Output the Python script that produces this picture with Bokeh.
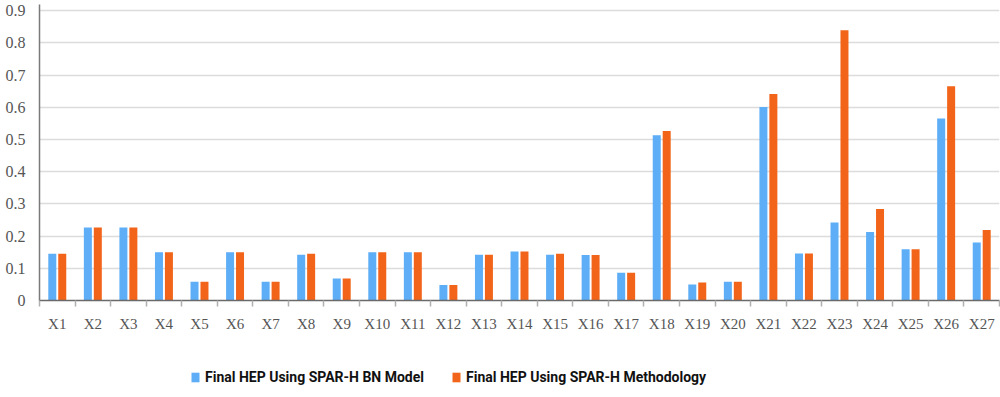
from bokeh.plotting import figure
from bokeh.layouts import column
from bokeh.models import (ColumnDataSource, FixedTicker, Legend, LegendItem, Range1d)
from bokeh.embed import file_html
from bokeh.resources import INLINE

categories = ["X1", "X2", "X3", "X4", "X5", "X6", "X7", "X8", "X9", "X10",
              "X11", "X12", "X13", "X14", "X15", "X16", "X17", "X18", "X19", "X20",
              "X21", "X22", "X23", "X24", "X25", "X26", "X27"]
bn_model = [0.145, 0.227, 0.227, 0.150, 0.058, 0.150, 0.058, 0.142, 0.068, 0.150,
            0.150, 0.048, 0.142, 0.152, 0.142, 0.141, 0.086, 0.513, 0.050, 0.058,
            0.601, 0.146, 0.242, 0.213, 0.159, 0.565, 0.180]
spar_h = [0.145, 0.227, 0.227, 0.150, 0.058, 0.150, 0.058, 0.145, 0.068, 0.150,
          0.150, 0.048, 0.142, 0.152, 0.145, 0.141, 0.086, 0.526, 0.056, 0.058,
          0.641, 0.146, 0.839, 0.284, 0.159, 0.665, 0.219]
y_ticks = [0, 0.1, 0.2, 0.3, 0.4, 0.5, 0.6, 0.7, 0.8, 0.9]
series_names = ["Final HEP Using SPAR-H BN Model", "Final HEP Using SPAR-H Methodology"]

BLUE = "#5DADF7"
ORANGE = "#F26419"

pos = list(range(1, len(categories) + 1))
src = ColumnDataSource(dict(
    x_bn=[p - 0.14 for p in pos],
    x_sp=[p + 0.14 for p in pos],
    bn=bn_model,
    sp=spar_h,
))

p = figure(width=1000, height=345, output_backend="svg", toolbar_location=None,
           x_range=Range1d(0.5, len(categories) + 0.5), y_range=Range1d(0, 0.919),
           min_border_left=39, min_border_right=1, min_border_top=4, min_border_bottom=45)
p.outline_line_color = None
p.background_fill_color = "white"

p.vbar(x="x_bn", top="bn", width=0.225, source=src, fill_color=BLUE, line_color=None)
p.vbar(x="x_sp", top="sp", width=0.225, source=src, fill_color=ORANGE, line_color=None)

# x axis: labels at category centres, small ticks at category boundaries
xa = p.xaxis[0]
xa.ticker = FixedTicker(ticks=pos, minor_ticks=[i + 0.5 for i in range(0, len(categories) + 1)])
xa.major_label_overrides = {i + 1: c for i, c in enumerate(categories)}
xa.major_tick_line_color = None
xa.major_tick_out = 0
xa.major_tick_in = 0
xa.minor_tick_out = 6
xa.minor_tick_in = 0
xa.minor_tick_line_color = "#b0b0b0"
xa.minor_tick_line_width = 1.5
xa.axis_line_color = "#6a6a6a"
xa.axis_line_width = 1.5
xa.major_label_standoff = 9
xa.major_label_text_font = "Liberation Serif"
xa.major_label_text_font_size = "15px"
xa.major_label_text_color = "#555555"

ya = p.yaxis[0]
ya.ticker = FixedTicker(ticks=y_ticks)
ya.major_label_overrides = {0: "0"}
ya.major_tick_line_color = None
ya.major_tick_out = 0
ya.major_tick_in = 0
ya.minor_tick_line_color = None
ya.axis_line_color = "#7a7a7a"
ya.axis_line_width = 1.5
ya.major_label_standoff = 14
ya.major_label_text_font = "Liberation Serif"
ya.major_label_text_font_size = "16px"
ya.major_label_text_color = "#555555"

p.xgrid.grid_line_color = None
p.ygrid.grid_line_color = "#dcdcdc"
p.ygrid.grid_line_width = 1.5
p.ygrid.ticker = FixedTicker(ticks=y_ticks[1:])

# legend strip below the chart
lf = figure(width=1000, height=52, output_backend="svg", toolbar_location=None,
            x_range=Range1d(0, 1), y_range=Range1d(0, 1),
            x_axis_type=None, y_axis_type=None,
            min_border_left=0, min_border_right=0, min_border_top=0, min_border_bottom=0)
lf.outline_line_color = None
lf.xgrid.visible = False
lf.ygrid.visible = False
l1 = lf.vbar(x="x_bn", top="bn", width=0.225, source=src, fill_color=BLUE, line_color=None, visible=False)
l2 = lf.vbar(x="x_sp", top="sp", width=0.225, source=src, fill_color=ORANGE, line_color=None, visible=False)

legend = Legend(items=[LegendItem(label=series_names[0], renderers=[l1]),
                       LegendItem(label=series_names[1], renderers=[l2])],
                orientation="horizontal", location=(151, 12),
                padding=0, margin=0, spacing=27,
                glyph_width=10, glyph_height=12, label_standoff=5,
                label_height=12,
                label_text_font="Roboto", label_text_font_style="bold",
                label_text_font_size="14px", label_text_color="#111111",
                inactive_fill_alpha=0,
                border_line_color=None, background_fill_alpha=0)
lf.add_layout(legend, "center")

layout = column(p, lf, spacing=0)
open("out.html", "w").write(file_html(layout, INLINE))
